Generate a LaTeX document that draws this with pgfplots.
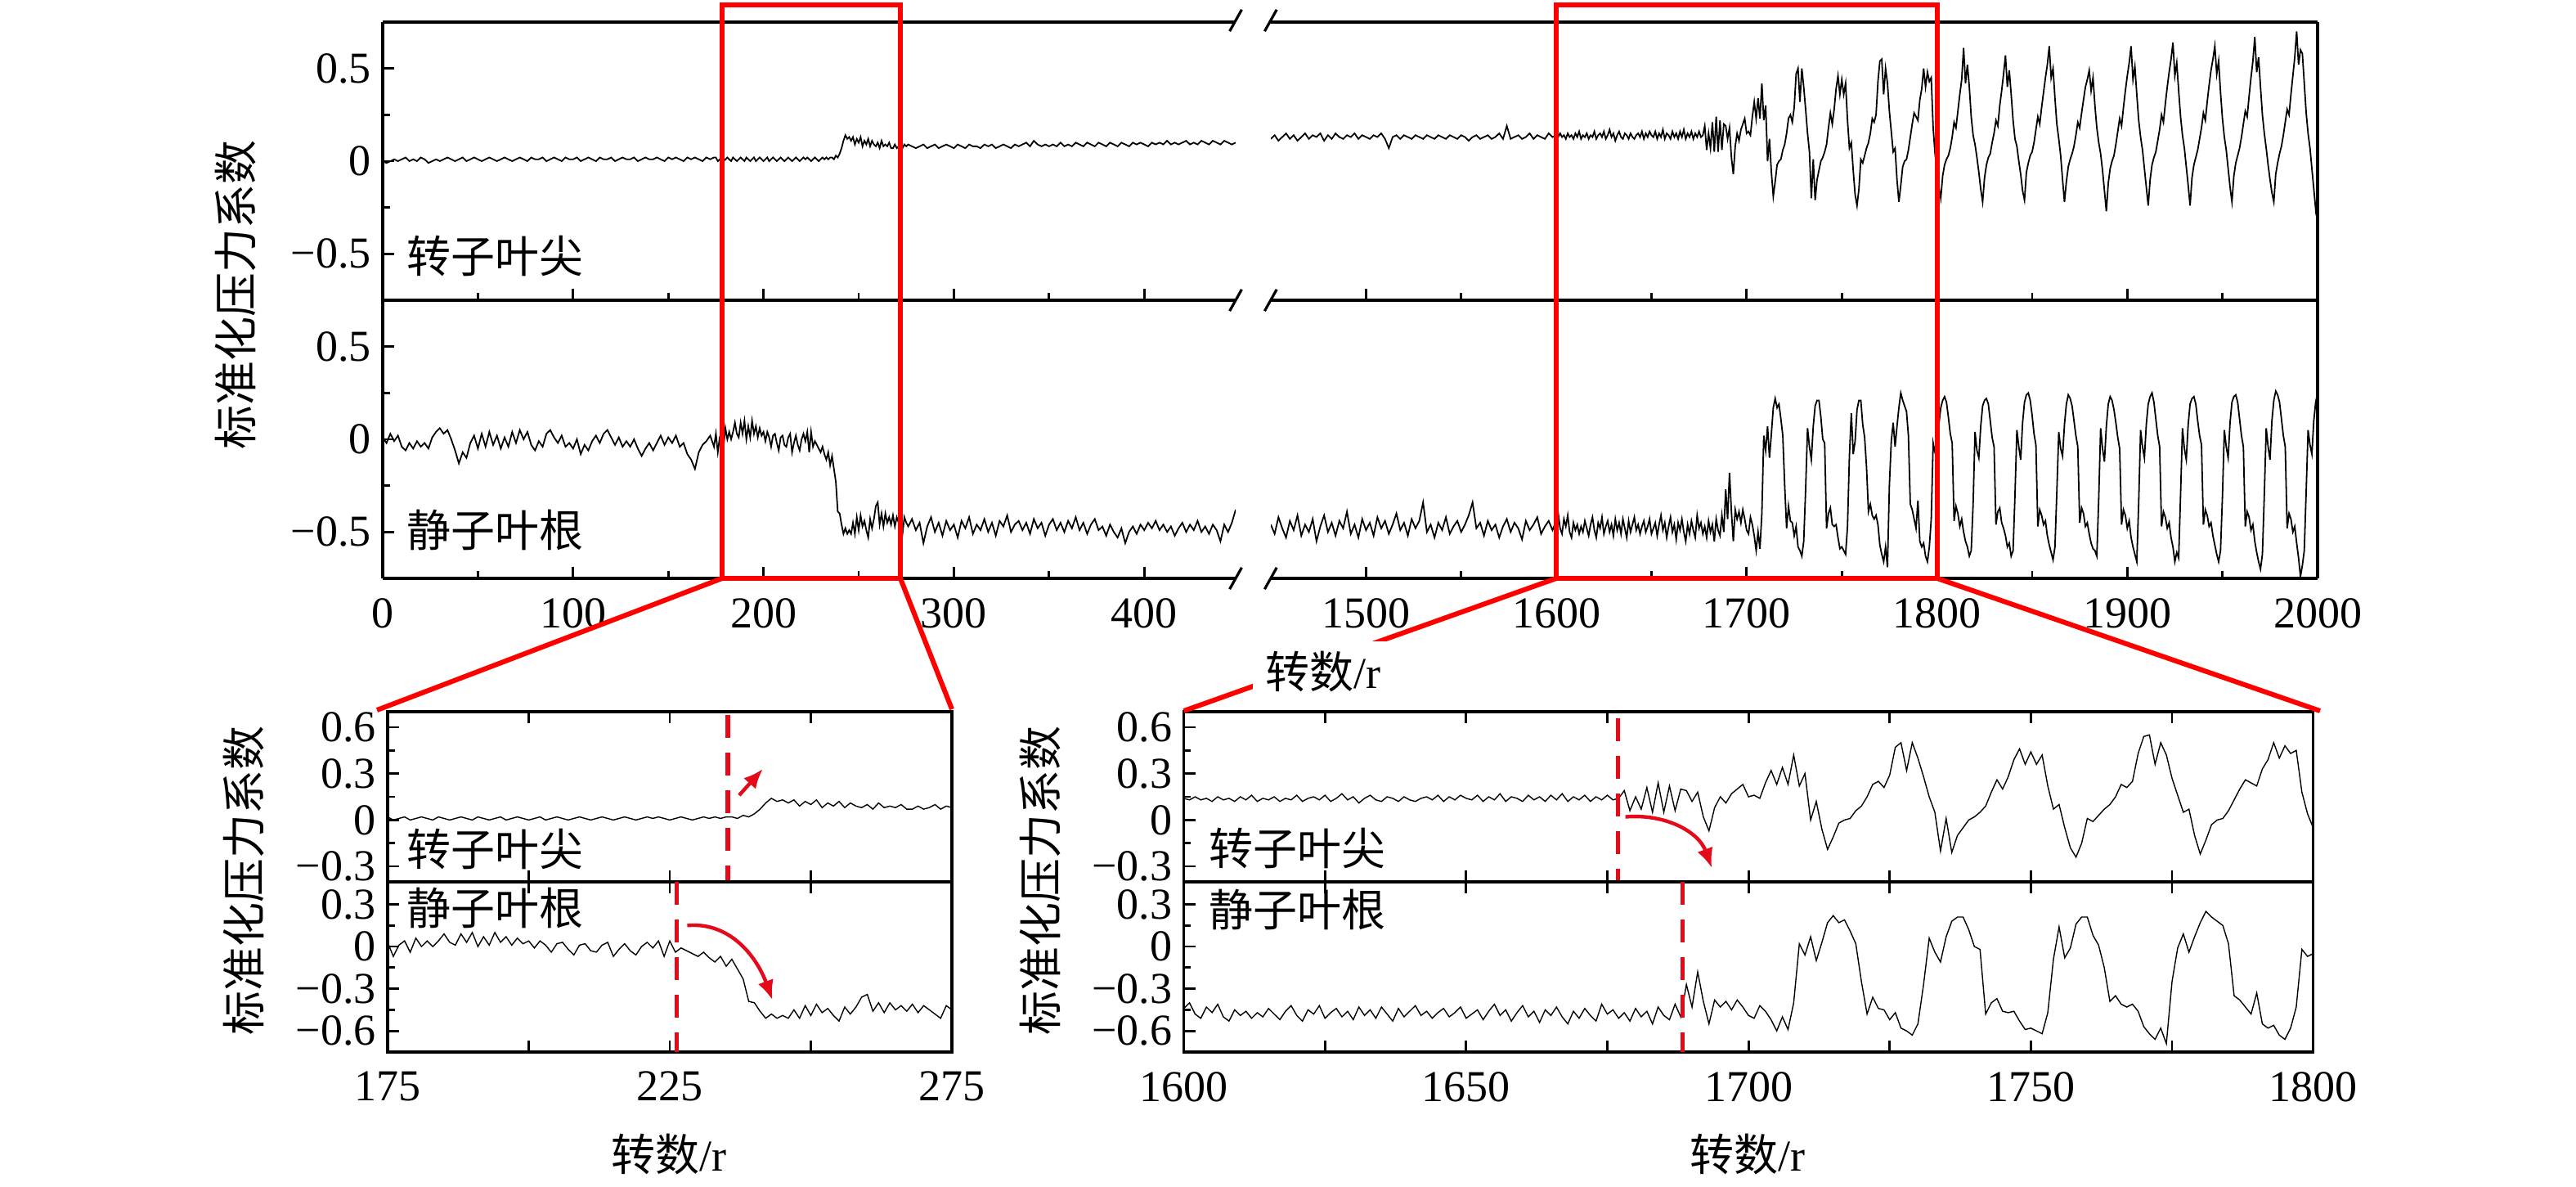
\documentclass[border=0pt]{standalone}
\usepackage{pgfplots}
\pgfplotsset{compat=1.18}
\usepackage{pgfplotstable}
\usepackage{fontspec}
\setmainfont{Liberation Serif}
\newfontfamily\cjk{Noto Sans CJK SC}
\usetikzlibrary{arrows.meta}
\definecolor{myred}{RGB}{255,0,0}
\definecolor{dred}{RGB}{228,10,25}

\pgfplotstableread{
x tip root
0 0.00 0.01
2 -0.01 -0.02
4 0.00 0.03
6 0.01 -0.01
8 0.00 0.02
10 0.01 -0.04
12 0.02 -0.06
14 0.00 -0.02
16 0.01 -0.05
18 0.00 -0.01
20 0.02 -0.04
22 0.01 -0.02
24 -0.01 -0.05
26 0.00 0.01
28 0.01 0.04
30 0.00 0.06
32 0.01 0.03
34 0.02 0.05
36 0.01 0.00
38 0.00 -0.06
40 0.01 -0.13
42 0.02 -0.07
44 0.00 -0.10
46 0.01 -0.02
48 0.02 0.02
50 0.01 -0.05
52 0.00 0.03
54 0.01 -0.04
56 0.02 0.04
58 0.01 -0.03
60 0.00 0.02
62 0.01 -0.05
64 0.02 0.01
66 0.01 -0.04
68 0.00 0.04
70 0.01 -0.02
72 0.02 0.05
74 0.01 0.00
76 0.00 0.04
78 0.02 -0.03
80 0.01 -0.06
82 0.01 -0.01
84 0.02 -0.04
86 0.00 0.03
88 0.01 0.05
90 0.02 0.01
92 0.01 -0.02
94 0.00 0.02
96 0.02 -0.04
98 0.01 -0.02
100 0.01 -0.05
102 0.02 0.00
104 0.00 -0.08
106 0.01 -0.03
108 0.02 -0.06
110 0.01 -0.01
112 0.00 0.02
114 0.02 -0.02
116 0.01 0.03
118 0.01 0.05
120 0.02 0.01
122 0.00 -0.03
124 0.01 0.01
126 0.02 -0.04
128 0.01 -0.01
130 0.01 -0.04
132 0.02 0.00
134 0.00 -0.05
136 0.01 -0.09
138 0.02 -0.05
140 0.01 -0.02
142 0.01 -0.06
144 0.02 -0.02
146 0.01 0.02
148 0.00 -0.03
150 0.02 0.01
152 0.01 -0.02
154 0.02 0.02
156 0.01 -0.04
158 0.00 -0.02
160 0.02 -0.08
162 0.01 -0.11
164 0.02 -0.16
166 0.01 -0.07
168 0.00 -0.03
170 0.02 -0.01
172 0.01 0.02
174 0.02 -0.04
175 0.02 0.03
176 0.00 -0.07
177 0.01 0.01
178 0.02 0.04
179 0.00 -0.04
180 0.01 0.06
181 0.02 0.00
182 0.01 0.04
183 0.00 0.00
184 0.02 0.04
185 0.01 0.09
186 0.00 0.03
187 0.01 0.01
188 0.02 0.09
189 0.01 0.03
190 0.00 0.10
191 0.02 0.00
192 0.01 0.07
193 0.00 0.01
194 0.01 0.10
195 0.02 0.03
196 0.00 0.07
197 0.01 0.01
198 0.02 0.06
199 0.01 0.02
200 0.00 0.04
201 0.01 -0.01
202 0.02 0.04
203 0.00 0.01
204 0.01 -0.04
205 0.02 0.02
206 0.01 0.03
207 0.00 -0.02
208 0.01 -0.06
209 0.02 0.01
210 0.01 0.02
211 0.00 -0.03
212 0.01 -0.04
213 0.02 0.01
214 0.01 0.03
215 0.00 -0.07
216 0.01 -0.02
217 0.02 0.02
218 0.01 -0.03
219 0.00 -0.06
220 0.01 0.00
221 0.02 0.03
222 0.01 -0.01
223 0.02 0.04
224 0.01 -0.07
225 0.00 0.04
226 0.01 -0.04
227 0.02 -0.01
228 0.01 -0.03
229 0.00 -0.05
230 0.01 -0.07
231 0.02 -0.04
232 0.01 -0.08
233 0.02 -0.11
234 0.01 -0.07
235 0.02 -0.14
236 0.02 -0.09
237 0.01 -0.16
238 0.03 -0.23
239 0.02 -0.39
240 0.04 -0.40
241 0.07 -0.46
242 0.11 -0.51
243 0.14 -0.48
244 0.12 -0.51
245 0.13 -0.49
246 0.11 -0.51
247 0.13 -0.45
248 0.09 -0.51
249 0.12 -0.42
250 0.10 -0.49
251 0.13 -0.41
252 0.08 -0.47
253 0.11 -0.44
254 0.09 -0.49
255 0.12 -0.53
256 0.08 -0.43
257 0.11 -0.48
258 0.09 -0.43
259 0.08 -0.36
260 0.10 -0.34
261 0.07 -0.46
262 0.11 -0.40
263 0.08 -0.47
264 0.09 -0.40
265 0.08 -0.45
266 0.10 -0.42
267 0.07 -0.46
268 0.07 -0.41
269 0.09 -0.47
270 0.07 -0.42
271 0.08 -0.45
272 0.10 -0.48
273 0.07 -0.51
274 0.09 -0.42
275 0.08 -0.45
276 0.09 -0.47
278 0.08 -0.43
280 0.07 -0.49
282 0.08 -0.45
284 0.09 -0.56
286 0.07 -0.47
288 0.08 -0.42
290 0.09 -0.50
292 0.07 -0.45
294 0.08 -0.52
296 0.09 -0.44
298 0.08 -0.49
300 0.07 -0.46
302 0.09 -0.53
304 0.08 -0.44
306 0.07 -0.48
308 0.09 -0.42
310 0.08 -0.51
312 0.08 -0.46
314 0.07 -0.49
316 0.09 -0.43
318 0.08 -0.50
320 0.09 -0.45
322 0.07 -0.52
324 0.08 -0.44
326 0.09 -0.47
328 0.08 -0.41
330 0.07 -0.50
332 0.09 -0.46
334 0.08 -0.44
336 0.09 -0.49
338 0.10 -0.45
340 0.08 -0.51
342 0.11 -0.43
344 0.09 -0.48
346 0.08 -0.45
348 0.09 -0.52
350 0.08 -0.46
352 0.09 -0.43
354 0.08 -0.49
356 0.10 -0.45
358 0.08 -0.50
360 0.09 -0.44
362 0.08 -0.48
364 0.10 -0.42
366 0.09 -0.49
368 0.08 -0.45
370 0.10 -0.51
372 0.09 -0.46
374 0.08 -0.43
376 0.10 -0.49
378 0.09 -0.47
380 0.08 -0.52
382 0.10 -0.46
384 0.09 -0.50
386 0.08 -0.53
388 0.10 -0.48
390 0.09 -0.56
392 0.08 -0.50
394 0.10 -0.47
396 0.09 -0.51
398 0.10 -0.46
400 0.09 -0.49
402 0.08 -0.45
404 0.10 -0.48
406 0.09 -0.44
408 0.10 -0.49
410 0.09 -0.46
412 0.11 -0.50
414 0.09 -0.47
416 0.10 -0.52
418 0.09 -0.48
420 0.10 -0.45
422 0.11 -0.50
424 0.09 -0.46
426 0.10 -0.49
428 0.09 -0.44
430 0.11 -0.50
432 0.10 -0.47
434 0.09 -0.51
436 0.11 -0.46
438 0.10 -0.49
440 0.09 -0.55
442 0.11 -0.46
444 0.10 -0.50
446 0.09 -0.45
448 0.10 -0.38
}\leftdata

\pgfplotstableread{
x tip root
1450 0.12 -0.46
1452 0.14 -0.51
1454 0.11 -0.42
1456 0.13 -0.48
1458 0.15 -0.53
1460 0.12 -0.44
1462 0.14 -0.49
1464 0.11 -0.41
1466 0.13 -0.52
1468 0.15 -0.46
1470 0.12 -0.50
1472 0.14 -0.43
1474 0.13 -0.55
1476 0.15 -0.47
1478 0.11 -0.41
1480 0.14 -0.50
1482 0.12 -0.45
1484 0.15 -0.52
1486 0.13 -0.44
1488 0.12 -0.48
1490 0.14 -0.39
1492 0.13 -0.51
1494 0.15 -0.46
1496 0.12 -0.53
1498 0.14 -0.43
1500 0.13 -0.49
1502 0.12 -0.45
1504 0.14 -0.52
1506 0.13 -0.42
1508 0.15 -0.48
1510 0.12 -0.44
1512 0.07 -0.51
1514 0.13 -0.46
1516 0.14 -0.40
1518 0.12 -0.49
1520 0.14 -0.45
1522 0.13 -0.52
1524 0.12 -0.43
1526 0.14 -0.48
1528 0.13 -0.44
1530 0.12 -0.34
1532 0.14 -0.50
1534 0.13 -0.46
1536 0.12 -0.53
1538 0.14 -0.45
1540 0.13 -0.49
1542 0.12 -0.42
1544 0.14 -0.51
1546 0.13 -0.47
1548 0.12 -0.44
1550 0.14 -0.50
1552 0.13 -0.46
1554 0.11 -0.41
1556 0.13 -0.34
1558 0.14 -0.48
1560 0.12 -0.45
1562 0.13 -0.52
1564 0.14 -0.44
1566 0.12 -0.49
1568 0.13 -0.46
1570 0.15 -0.53
1572 0.12 -0.47
1574 0.19 -0.43
1576 0.12 -0.50
1578 0.13 -0.45
1580 0.14 -0.48
1582 0.12 -0.54
1584 0.13 -0.44
1586 0.15 -0.49
1588 0.12 -0.46
1590 0.14 -0.42
1592 0.13 -0.51
1594 0.12 -0.47
1596 0.15 -0.44
1598 0.13 -0.49
1600 0.14 -0.44
1601 0.13 -0.40
1602 0.15 -0.48
1603 0.13 -0.51
1604 0.14 -0.43
1605 0.12 -0.47
1606 0.15 -0.41
1607 0.13 -0.50
1608 0.14 -0.53
1609 0.12 -0.45
1610 0.15 -0.49
1611 0.13 -0.46
1612 0.16 -0.51
1613 0.12 -0.47
1614 0.14 -0.50
1615 0.13 -0.44
1616 0.15 -0.48
1617 0.12 -0.52
1618 0.14 -0.46
1619 0.13 -0.42
1620 0.16 -0.49
1621 0.12 -0.53
1622 0.14 -0.45
1623 0.15 -0.48
1624 0.13 -0.42
1625 0.16 -0.51
1626 0.12 -0.47
1627 0.14 -0.44
1628 0.17 -0.50
1629 0.13 -0.46
1630 0.15 -0.52
1631 0.11 -0.43
1632 0.14 -0.49
1633 0.16 -0.45
1634 0.13 -0.51
1635 0.12 -0.43
1636 0.15 -0.48
1637 0.14 -0.53
1638 0.12 -0.44
1639 0.15 -0.50
1640 0.13 -0.46
1641 0.12 -0.42
1642 0.14 -0.49
1643 0.15 -0.46
1644 0.13 -0.51
1645 0.16 -0.47
1646 0.12 -0.44
1647 0.15 -0.50
1648 0.13 -0.47
1649 0.16 -0.43
1650 0.14 -0.51
1651 0.13 -0.48
1652 0.16 -0.45
1653 0.12 -0.52
1654 0.15 -0.46
1655 0.13 -0.41
1656 0.17 -0.49
1657 0.12 -0.45
1658 0.15 -0.53
1659 0.14 -0.47
1660 0.12 -0.42
1661 0.16 -0.50
1662 0.13 -0.46
1663 0.15 -0.54
1664 0.12 -0.45
1665 0.16 -0.49
1666 0.13 -0.43
1667 0.17 -0.50
1668 0.12 -0.55
1669 0.15 -0.46
1670 0.13 -0.51
1671 0.16 -0.44
1672 0.12 -0.49
1673 0.15 -0.53
1674 0.13 -0.41
1675 0.16 -0.48
1676 0.13 -0.45
1677 0.14 -0.51
1678 0.19 -0.47
1679 0.06 -0.53
1680 0.15 -0.44
1681 0.07 -0.50
1682 0.21 -0.46
1683 0.05 -0.55
1684 0.24 -0.43
1685 0.05 -0.49
1686 0.22 -0.52
1687 0.06 -0.41
1688 0.20 -0.50
1689 0.19 -0.27
1690 0.12 -0.43
1691 0.18 -0.18
1692 0.02 -0.39
1693 -0.07 -0.55
1694 0.08 -0.38
1695 0.15 -0.43
1696 0.11 -0.39
1697 0.17 -0.45
1698 0.20 -0.38
1699 0.23 -0.43
1700 0.15 -0.49
1701 0.16 -0.51
1702 0.14 -0.42
1703 0.24 -0.46
1704 0.32 -0.52
1705 0.23 -0.60
1706 0.34 -0.50
1707 0.23 -0.59
1708 0.42 -0.40
1709 0.22 0.02
1710 0.30 -0.06
1711 0.00 0.07
1712 0.12 -0.10
1713 -0.06 0.03
1714 -0.19 0.17
1715 -0.11 0.22
1716 -0.02 0.17
1717 0.00 0.19
1718 0.01 0.11
1719 0.06 0.02
1720 0.09 -0.25
1721 0.15 -0.48
1722 0.23 -0.36
1723 0.25 -0.44
1724 0.21 -0.45
1725 0.29 -0.52
1726 0.47 -0.47
1727 0.50 -0.58
1728 0.32 -0.60
1729 0.50 -0.63
1730 0.40 -0.55
1731 0.28 -0.27
1732 0.15 0.06
1733 0.05 -0.04
1734 -0.20 -0.11
1735 0.01 0.07
1736 -0.21 0.18
1737 -0.10 0.21
1738 -0.05 0.21
1739 0.00 0.12
1740 0.02 0.00
1741 0.05 -0.02
1742 0.09 -0.48
1743 0.18 -0.40
1744 0.26 -0.37
1745 0.20 -0.46
1746 0.28 -0.47
1747 0.39 -0.46
1748 0.46 -0.53
1749 0.36 -0.59
1750 0.44 -0.58
1751 0.36 -0.60
1752 0.42 -0.62
1753 0.22 -0.47
1754 0.07 -0.09
1755 0.10 0.14
1756 -0.05 -0.08
1757 -0.18 -0.01
1758 -0.24 0.16
1759 -0.15 0.21
1760 0.01 0.21
1761 -0.01 0.08
1762 0.03 0.01
1763 0.07 -0.15
1764 0.10 -0.39
1765 0.15 -0.35
1766 0.23 -0.41
1767 0.21 -0.43
1768 0.25 -0.41
1769 0.43 -0.46
1770 0.54 -0.57
1771 0.55 -0.62
1772 0.36 -0.66
1773 0.50 -0.58
1774 0.42 -0.69
1775 0.27 -0.25
1776 0.16 -0.01
1777 0.05 0.09
1778 0.07 -0.04
1779 -0.10 0.07
1780 -0.22 0.17
1781 -0.13 0.25
1782 -0.03 0.21
1783 0.00 0.18
1784 0.01 0.15
1785 0.06 0.02
1786 0.13 -0.35
1787 0.20 -0.38
1788 0.26 -0.43
1789 0.24 -0.48
1790 0.22 -0.33
1791 0.33 -0.55
1792 0.39 -0.58
1793 0.50 -0.56
1794 0.40 -0.63
1795 0.48 -0.66
1796 0.43 -0.58
1797 0.45 -0.43
1798 0.18 -0.02
1799 0.04 -0.07
1800 -0.05 -0.05
1801 -0.14 0.08
1802 -0.20 0.17
1803 -0.08 0.21
1804 -0.02 0.23
1805 0.01 0.20
1806 0.03 0.12
1807 0.07 0.03
1808 0.13 -0.02
1809 0.21 -0.44
1810 0.18 -0.36
1811 0.27 -0.40
1812 0.36 -0.47
1813 0.44 -0.43
1814 0.61 -0.50
1815 0.42 -0.55
1816 0.52 -0.58
1817 0.40 -0.63
1818 0.24 -0.60
1819 0.14 -0.35
1820 0.09 0.04
1821 0.02 -0.06
1822 -0.06 -0.10
1823 -0.15 0.07
1824 -0.22 0.18
1825 -0.09 0.21
1826 -0.02 0.22
1827 0.02 0.19
1828 0.04 0.10
1829 0.10 0.01
1830 0.15 -0.04
1831 0.22 -0.46
1832 0.19 -0.39
1833 0.30 -0.37
1834 0.38 -0.45
1835 0.47 -0.48
1836 0.57 -0.52
1837 0.40 -0.58
1838 0.49 -0.56
1839 0.36 -0.63
1840 0.22 -0.60
1841 0.12 -0.30
1842 0.08 0.05
1843 0.00 -0.04
1844 -0.07 -0.11
1845 -0.16 0.09
1846 -0.21 0.20
1847 -0.06 0.24
1848 -0.01 0.25
1849 0.03 0.21
1850 0.05 0.13
1851 0.10 0.03
1852 0.17 -0.03
1853 0.24 -0.47
1854 0.20 -0.38
1855 0.29 -0.41
1856 0.37 -0.46
1857 0.45 -0.44
1858 0.52 -0.52
1859 0.62 -0.57
1860 0.45 -0.61
1861 0.50 -0.65
1862 0.34 -0.58
1863 0.20 -0.28
1864 0.12 0.04
1865 0.03 -0.05
1866 -0.10 -0.09
1867 -0.22 0.08
1868 -0.11 0.19
1869 -0.03 0.24
1870 0.01 0.22
1871 0.04 0.18
1872 0.08 0.10
1873 0.14 0.02
1874 0.21 -0.04
1875 0.18 -0.45
1876 0.26 -0.37
1877 0.33 -0.40
1878 0.40 -0.47
1879 0.44 -0.45
1880 0.49 -0.51
1881 0.38 -0.56
1882 0.45 -0.59
1883 0.30 -0.60
1884 0.18 -0.63
1885 0.10 -0.32
1886 0.04 0.06
1887 -0.05 -0.05
1888 -0.16 -0.12
1889 -0.27 0.07
1890 -0.12 0.19
1891 -0.04 0.23
1892 0.00 0.21
1893 0.03 0.16
1894 0.09 0.09
1895 0.16 0.01
1896 0.23 -0.05
1897 0.19 -0.46
1898 0.29 -0.38
1899 0.38 -0.41
1900 0.46 -0.48
1901 0.53 -0.44
1902 0.62 -0.53
1903 0.44 -0.58
1904 0.51 -0.62
1905 0.36 -0.66
1906 0.22 -0.34
1907 0.13 0.05
1908 0.06 -0.04
1909 -0.04 -0.10
1910 -0.14 0.08
1911 -0.24 0.19
1912 -0.10 0.23
1913 -0.02 0.25
1914 0.02 0.20
1915 0.05 0.11
1916 0.11 0.02
1917 0.17 -0.04
1918 0.25 -0.47
1919 0.21 -0.39
1920 0.31 -0.42
1921 0.40 -0.48
1922 0.48 -0.45
1923 0.55 -0.53
1924 0.64 -0.58
1925 0.46 -0.66
1926 0.53 -0.61
1927 0.38 -0.64
1928 0.24 -0.30
1929 0.14 0.06
1930 0.07 -0.05
1931 -0.03 -0.11
1932 -0.13 0.08
1933 -0.24 0.19
1934 -0.09 0.22
1935 -0.02 0.23
1936 0.02 0.19
1937 0.06 0.10
1938 0.12 0.02
1939 0.18 -0.03
1940 0.26 -0.46
1941 0.22 -0.38
1942 0.32 -0.41
1943 0.41 -0.47
1944 0.49 -0.45
1945 0.55 -0.52
1946 0.62 -0.57
1947 0.47 -0.62
1948 0.54 -0.66
1949 0.37 -0.60
1950 0.23 -0.31
1951 0.13 0.05
1952 0.06 -0.04
1953 -0.04 -0.10
1954 -0.14 0.09
1955 -0.22 0.20
1956 -0.08 0.23
1957 -0.01 0.24
1958 0.03 0.20
1959 0.07 0.11
1960 0.13 0.02
1961 0.20 -0.04
1962 0.27 -0.47
1963 0.24 -0.39
1964 0.35 -0.42
1965 0.45 -0.49
1966 0.54 -0.46
1967 0.67 -0.55
1968 0.48 -0.61
1969 0.56 -0.66
1970 0.40 -0.70
1971 0.25 -0.62
1972 0.15 -0.30
1973 0.07 0.06
1974 -0.02 -0.04
1975 -0.10 -0.11
1976 -0.17 0.10
1977 -0.22 0.21
1978 -0.07 0.26
1979 -0.01 0.24
1980 0.04 0.20
1981 0.08 0.11
1982 0.14 0.02
1983 0.21 -0.04
1984 0.28 -0.48
1985 0.25 -0.40
1986 0.36 -0.43
1987 0.46 -0.50
1988 0.56 -0.47
1989 0.70 -0.56
1990 0.52 -0.64
1991 0.60 -0.74
1992 0.58 -0.68
1993 0.42 -0.60
1994 0.26 -0.28
1995 0.15 0.05
1996 0.07 -0.03
1997 -0.04 -0.08
1998 -0.15 0.10
1999 -0.26 0.20
2000 -0.18 0.25
}\rightdata

\pgfplotsset{
  base/.style={
    scale only axis,
    axis line style={line width=0.8pt},
    every tick/.style={black, line width=0.7pt},
    major tick length=3.5pt, minor tick length=2.2pt,
    tick align=inside,
    tick label style={font=\fontsize{13.5}{15}\selectfont},
    xticklabel style={yshift=-2.5pt},
    yticklabel style={inner ysep=0pt},
    clip=true,
  },
  topL/.style={base, width=260.75pt, height=85pt, xmin=0, xmax=448,
    ymin=-0.75, ymax=0.75,
    axis x line*=box, axis y line*=left, xtick pos=left, ytick pos=left,
    xtick={0,100,200,300,400}, minor xtick={50,150,250,350},
    ytick={-0.5,0,0.5}, yticklabels={−0.5,0,0.5}, minor ytick={-0.25,0.25}},
  topR/.style={base, width=320pt, height=85pt, xmin=1450, xmax=2000,
    ymin=-0.75, ymax=0.75,
    axis x line*=box, axis y line*=right, xtick pos=left,
    xtick={1500,1600,...,2000}, minor xtick={1550,1650,...,1950},
    ytick=\empty},
  zoomL/.style={base, width=172.5pt, height=52pt, xmin=175, xmax=275,
    xtick={175,200,...,275}, xtick pos=both, ytick pos=left},
  zoomR/.style={base, width=345.25pt, height=52pt, xmin=1600, xmax=1800,
    xtick={1600,1625,...,1800}, xtick pos=both, ytick pos=left},
  zt/.style={ymin=-0.4, ymax=0.7, ytick={-0.3,0,0.3,0.6},
    yticklabels={−0.3,0,0.3,0.6}, minor ytick={-0.15,0.15,0.45}},
  zb/.style={ymin=-0.75, ymax=0.46, ytick={-0.6,-0.3,0,0.3},
    yticklabels={−0.6,−0.3,0,0.3}, minor ytick={-0.45,-0.15,0.15}},
}

\begin{document}
\begin{tikzpicture}
\useasboundingbox (0,0) rectangle (787.5pt,362.5pt);

% ---------- top panel ----------
\begin{axis}[topL, at={(117pt,270.75pt)}, anchor=south west, xticklabels={}]
\addplot[black, line width=0.45pt] table[x=x,y=tip] {\leftdata};
\end{axis}
\begin{axis}[topL, at={(117pt,185.75pt)}, anchor=south west,
  xticklabels={0,100,200,300,400}]
\addplot[black, line width=0.45pt] table[x=x,y=root] {\leftdata};
\end{axis}
\begin{axis}[topR, at={(388.5pt,270.75pt)}, anchor=south west, xticklabels={}]
\addplot[black, line width=0.45pt] table[x=x,y=tip] {\rightdata};
\end{axis}
\begin{axis}[topR, at={(388.5pt,185.75pt)}, anchor=south west,
  xticklabels={1500,1600,1700,1800,1900,2000}]
\addplot[black, line width=0.45pt] table[x=x,y=root] {\rightdata};
\end{axis}

% ---------- zoom left ----------
\begin{axis}[zoomL, zt, at={(118.5pt,93pt)}, anchor=south west, xticklabels={}]
\addplot[black, line width=0.35pt] table[x=x,y=tip] {\leftdata};
\draw[dred, line width=1.3pt, dash pattern=on 7pt off 4.5pt] (axis cs:235.3,0.68) -- (axis cs:235.3,-0.40);
\draw[dred, line width=1.1pt, -{Latex[length=6pt,width=5pt]}] (axis cs:237.3,0.16) -- (axis cs:241.5,0.33);
\end{axis}
\begin{axis}[zoomL, zb, at={(118.5pt,41pt)}, anchor=south west,
  xticklabels={175,,225,,275}]
\addplot[black, line width=0.35pt] table[x=x,y=root] {\leftdata};
\draw[dred, line width=1.3pt, dash pattern=on 7pt off 4.5pt] (axis cs:226.2,0.46) -- (axis cs:226.2,-0.75);
\draw[dred, line width=1.1pt, -{Latex[length=6pt,width=5pt]}] (axis cs:228.1,0.15) to[out=5,in=110] (axis cs:243.2,-0.38);
\end{axis}

% ---------- zoom right ----------
\begin{axis}[zoomR, zt, at={(361.9pt,93pt)}, anchor=south west, xticklabels={}]
\addplot[black, line width=0.35pt] table[x=x,y=tip] {\rightdata};
\draw[dred, line width=1.3pt, dash pattern=on 7pt off 4.5pt] (axis cs:1676.9,0.66) -- (axis cs:1676.9,-0.40);
\draw[dred, line width=1.1pt, -{Latex[length=6pt,width=5pt]}] (axis cs:1678.2,0.02) to[out=5,in=110] (axis cs:1693.5,-0.31);
\end{axis}
\begin{axis}[zoomR, zb, at={(361.9pt,41pt)}, anchor=south west,
  xticklabels={1600,,1650,,1700,,1750,,1800}]
\addplot[black, line width=0.35pt] table[x=x,y=root] {\rightdata};
\draw[dred, line width=1.3pt, dash pattern=on 7pt off 4.5pt] (axis cs:1688.3,0.46) -- (axis cs:1688.3,-0.75);
\end{axis}

% ---------- axis breaks ----------
\foreach \yy in {356.25,270.75,185.75}{
  \draw[line width=0.8pt] (375.9pt,\yy pt-3.3pt) -- (379.6pt,\yy pt+3.3pt);
  \draw[line width=0.8pt] (386.6pt,\yy pt-3.3pt) -- (390.3pt,\yy pt+3.3pt);
}

% ---------- red frames and connectors ----------
\draw[myred, line width=1.5pt] (220.75pt,185.75pt) rectangle (275.25pt,361pt);
\draw[myred, line width=1.5pt] (475.75pt,185.75pt) rectangle (592.25pt,361pt);
\draw[myred, line width=1.5pt] (220.75pt,185.75pt) -- (115.25pt,145.5pt);
\draw[myred, line width=1.5pt] (275.25pt,185.75pt) -- (291pt,145.75pt);
\draw[myred, line width=1.5pt] (475.75pt,185.75pt) -- (361.9pt,145.25pt);
\draw[myred, line width=1.5pt] (592.25pt,185.75pt) -- (709.25pt,145.25pt);

% ---------- texts ----------
\tikzset{cn/.style={inner sep=0pt, font=\cjk\fontsize{13.5}{15}\selectfont}}
\node[cn, anchor=west] at (124.2pt,284.25pt) {转子叶尖};
\node[cn, anchor=west] at (124.2pt,200.5pt) {静子叶根};
\node[cn, anchor=west] at (124.2pt,103.1pt) {转子叶尖};
\node[cn, anchor=west] at (124.2pt,84.9pt) {静子叶根};
\node[cn, anchor=west] at (369.5pt,103.2pt) {转子叶尖};
\node[cn, anchor=west] at (369.5pt,84.5pt) {静子叶根};

\node[cn, rotate=90] at (72pt,272.5pt) {标准化压力系数};
\node[cn, rotate=90] at (74.6pt,93.5pt) {标准化压力系数};
\node[cn, rotate=90] at (318pt,93.5pt) {标准化压力系数};

\node[cn, fill=white, inner xsep=4pt, inner ysep=3pt] at (404.5pt,157.25pt) {转数\fontspec{Liberation Serif}/r};
\node[cn] at (204.5pt,9.75pt) {转数\fontspec{Liberation Serif}/r};
\node[cn] at (534.25pt,9.75pt) {转数\fontspec{Liberation Serif}/r};
\end{tikzpicture}
\end{document}
